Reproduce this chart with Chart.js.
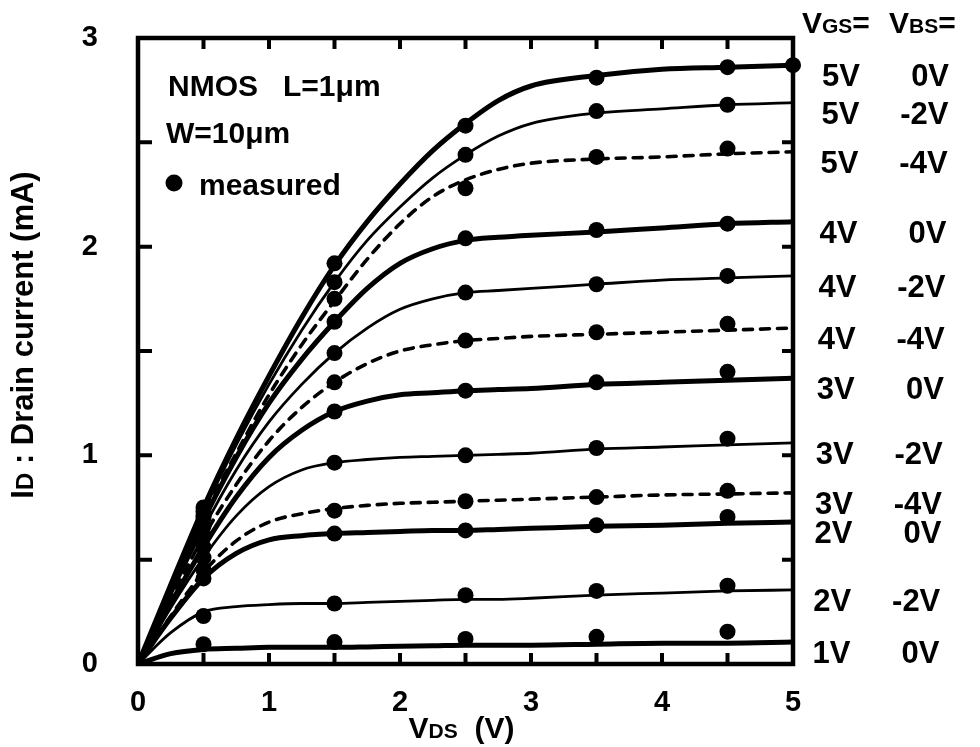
<!DOCTYPE html>
<html>
<head>
<meta charset="utf-8">
<script src="https://cdn.jsdelivr.net/npm/chart.js@4.4.1/dist/chart.umd.min.js"></script>
<style>
html,body{margin:0;padding:0;background:#fff;}
#wrap{width:980px;height:747px;}
</style>
</head>
<body>
<div id="wrap"><canvas id="c" width="980" height="747"></canvas></div>
<script>
// ---- data ----
const vdsSim = [0,0.25,0.5,0.75,1,1.25,1.5,1.75,2,2.25,2.5,2.75,3,3.5,4,4.5,5];
const vdsMeas = [0.5,1.5,2.5,3.5,4.5];
const vdsMeasTop = [0.5,1.5,2.5,3.5,4.5,5];
const xTicks = [0,1,2,3,4,5];
const yTicks = [0,1,2,3];
const vgsLabels = ['5V','5V','5V','4V','4V','4V','3V','3V','3V','2V','2V','1V'];
const vbsLabels = ['0V','-2V','-4V','0V','-2V','-4V','0V','-2V','-4V','0V','-2V','0V'];

const sim_5_0  = [0,0.38,0.75,1.08,1.38,1.66,1.91,2.12,2.30,2.46,2.59,2.70,2.77,2.82,2.85,2.86,2.87];
const sim_5_m2 = [0,0.37,0.73,1.05,1.34,1.60,1.83,2.03,2.19,2.33,2.44,2.53,2.59,2.64,2.66,2.68,2.69];
const sim_5_m4 = [0,0.36,0.71,1.01,1.29,1.53,1.74,1.94,2.11,2.24,2.32,2.37,2.40,2.42,2.43,2.445,2.455];
const sim_4_0  = [0,0.35,0.69,0.99,1.25,1.46,1.64,1.80,1.92,1.99,2.03,2.045,2.055,2.07,2.09,2.11,2.12];
const sim_4_m2 = [0,0.33,0.65,0.93,1.16,1.34,1.49,1.61,1.70,1.75,1.78,1.79,1.80,1.82,1.84,1.85,1.86];
const sim_4_m4 = [0,0.31,0.61,0.86,1.07,1.23,1.35,1.44,1.50,1.53,1.55,1.56,1.57,1.58,1.59,1.60,1.61];
const sim_3_0  = [0,0.29,0.56,0.80,0.99,1.12,1.21,1.26,1.29,1.30,1.31,1.315,1.32,1.34,1.35,1.36,1.37];
const sim_3_m2 = [0,0.27,0.51,0.71,0.85,0.93,0.965,0.98,0.99,0.995,1.0,1.005,1.01,1.03,1.04,1.05,1.06];
const sim_3_m4 = [0,0.23,0.44,0.59,0.68,0.72,0.745,0.76,0.77,0.775,0.78,0.785,0.79,0.80,0.81,0.815,0.82];
const sim_2_0  = [0,0.22,0.41,0.53,0.595,0.615,0.625,0.63,0.635,0.64,0.64,0.645,0.65,0.66,0.665,0.675,0.68];
const sim_2_m2 = [0,0.15,0.25,0.275,0.285,0.29,0.29,0.295,0.30,0.305,0.31,0.31,0.315,0.33,0.34,0.35,0.355];
const sim_1_0  = [0,0.05,0.07,0.075,0.08,0.08,0.08,0.082,0.085,0.087,0.09,0.09,0.09,0.095,0.10,0.10,0.105];

const meas_5_0  = [0.75,1.92,2.58,2.81,2.86,2.87];
const meas_5_m2 = [0.73,1.83,2.44,2.65,2.68];
const meas_5_m4 = [0.71,1.75,2.28,2.43,2.47];
const meas_4_0  = [0.70,1.64,2.04,2.08,2.11];
const meas_4_m2 = [0.66,1.49,1.78,1.82,1.86];
const meas_4_m4 = [0.62,1.35,1.55,1.59,1.63];
const meas_3_0  = [0.56,1.21,1.31,1.35,1.40];
const meas_3_m2 = [0.51,0.965,1.00,1.035,1.08];
const meas_3_m4 = [0.45,0.735,0.78,0.80,0.83];
const meas_2_0  = [0.41,0.625,0.64,0.665,0.705];
const meas_2_m2 = [0.23,0.29,0.33,0.35,0.375];
const meas_1_0  = [0.095,0.105,0.12,0.13,0.155];

const simSeries  = [sim_5_0,sim_5_m2,sim_5_m4,sim_4_0,sim_4_m2,sim_4_m4,sim_3_0,sim_3_m2,sim_3_m4,sim_2_0,sim_2_m2,sim_1_0];
const measSeries = [meas_5_0,meas_5_m2,meas_5_m4,meas_4_0,meas_4_m2,meas_4_m4,meas_3_0,meas_3_m2,meas_3_m4,meas_2_0,meas_2_m2,meas_1_0];

// ---- styles ----
const FONT = '"Liberation Sans", Arial, Helvetica, sans-serif';
function styleFor(vbs){
  if (vbs === '0V') return {w:5, dash:[]};
  if (vbs === '-2V') return {w:2.8, dash:[]};
  return {w:3.6, dash:[9,8]};
}

const datasets = [];
simSeries.forEach((s, k) => {
  const st = styleFor(vbsLabels[k]);
  datasets.push({
    type:'line',
    data: vdsSim.map((x,i)=>({x:x, y:s[i]})),
    borderColor:'#000', borderWidth:st.w, borderDash:st.dash,
    pointRadius:0, fill:false, cubicInterpolationMode:'monotone',
    borderCapStyle:'round', order:2
  });
});
measSeries.forEach((m, k) => {
  const xs = (m.length === vdsMeasTop.length) ? vdsMeasTop : vdsMeas;
  datasets.push({
    type:'scatter',
    data: xs.map((x,i)=>({x:x, y:m[i]})),
    backgroundColor:'#000', borderColor:'#000', borderWidth:0,
    pointRadius:8, pointHoverRadius:8, showLine:false, clip:false, order:1
  });
});

function rich(ctx, x, y, segs, align){
  let total = 0;
  segs.forEach(sg => { ctx.font = 'bold ' + sg.s + 'px ' + FONT; total += ctx.measureText(sg.t).width; });
  let cx = x;
  if (align === 'center') cx = x - total/2;
  else if (align === 'right') cx = x - total;
  ctx.textAlign = 'left';
  ctx.textBaseline = 'alphabetic';
  segs.forEach(sg => {
    ctx.font = 'bold ' + sg.s + 'px ' + FONT;
    ctx.fillText(sg.t, cx, y);
    cx += ctx.measureText(sg.t).width;
  });
}

const framePlugin = {
  id:'frame',
  beforeDatasetsDraw(chart){
    const {ctx, chartArea:a, scales:{x, y}} = chart;
    ctx.save();
    ctx.strokeStyle = '#000';
    ctx.lineWidth = 4.5;
    ctx.strokeRect(a.left, a.top, a.right - a.left, a.bottom - a.top);
    ctx.lineWidth = 4;
    const tl = 11;
    for (let v = 0.5; v < 5; v += 0.5) {
      const px = x.getPixelForValue(v);
      ctx.beginPath();
      ctx.moveTo(px, a.bottom); ctx.lineTo(px, a.bottom - tl);
      ctx.moveTo(px, a.top); ctx.lineTo(px, a.top + tl);
      ctx.stroke();
    }
    for (let v = 0.5; v < 3; v += 0.5) {
      const py = y.getPixelForValue(v);
      ctx.beginPath();
      ctx.moveTo(a.left, py); ctx.lineTo(a.left + tl + 3, py);
      ctx.moveTo(a.right, py); ctx.lineTo(a.right - tl, py);
      ctx.stroke();
    }
    ctx.restore();
  },
  afterDraw(chart){
    const {ctx, chartArea:a, scales:{x, y}} = chart;
    ctx.save();
    ctx.fillStyle = '#000';
    // x-axis title
    rich(ctx, x.getPixelForValue(2.5) - 4, a.bottom + 74, [{t:'V',s:30},{t:'DS',s:21},{t:'  (V)',s:30}], 'center');
    // y-axis title
    ctx.save();
    ctx.translate(33, (a.top + a.bottom)/2 - 16);
    ctx.rotate(-Math.PI/2);
    rich(ctx, 0, 0, [{t:'I',s:31},{t:'D',s:24},{t:' : Drain current (mA)',s:31}], 'center');
    ctx.restore();
    // legend block
    rich(ctx, 168, 96, [{t:'NMOS   L=1μm',s:30}], 'left');
    rich(ctx, 166, 143, [{t:'W=10μm',s:30}], 'left');
    ctx.beginPath(); ctx.arc(174, 183, 8.5, 0, Math.PI*2); ctx.fill();
    rich(ctx, 199, 195, [{t:'measured',s:30}], 'left');
    // header
    rich(ctx, 802, 33, [{t:'V',s:30},{t:'GS',s:21},{t:'=',s:30}], 'left');
    rich(ctx, 889, 33, [{t:'V',s:30},{t:'BS',s:21},{t:'=',s:30}], 'left');
    // curve labels
    simSeries.forEach((s, k) => {
      const cy = y.getPixelForValue(s[s.length-1]) + 10;
      const shift = (cy - 78) / 60;
      rich(ctx, 822 - shift, cy + 11, [{t:vgsLabels[k], s:31}], 'left');
      rich(ctx, 949 - shift, cy + 11, [{t:vbsLabels[k], s:31}], 'right');
    });
    ctx.restore();
  }
};

new Chart(document.getElementById('c'), {
  type:'scatter',
  data:{datasets:datasets},
  options:{
    responsive:false,
    animation:false,
    devicePixelRatio:1,
    layout:{padding:{top:38, right:187, left:0, bottom:0}},
    plugins:{legend:{display:false}, tooltip:{enabled:false}},
    scales:{
      x:{
        type:'linear', min:0, max:5,
        afterBuildTicks(sc){ sc.ticks = xTicks.map(v=>({value:v})); },
        ticks:{color:'#000', font:{family:FONT, size:29, weight:'bold'}, padding:22, maxRotation:0, autoSkip:false},
        grid:{display:false, drawTicks:false},
        border:{display:false},
        afterFit(sc){ sc.height = 83; sc.paddingLeft = 0; sc.paddingRight = 0; }
      },
      y:{
        type:'linear', min:0, max:3,
        afterBuildTicks(sc){ sc.ticks = yTicks.map(v=>({value:v})); },
        ticks:{color:'#000', font:{family:FONT, size:29, weight:'bold'}, padding:40, autoSkip:false},
        grid:{display:false, drawTicks:false},
        border:{display:false},
        afterFit(sc){ sc.width = 138; sc.paddingTop = 0; sc.paddingBottom = 0; }
      }
    }
  },
  plugins:[framePlugin]
});
</script>
</body>
</html>
